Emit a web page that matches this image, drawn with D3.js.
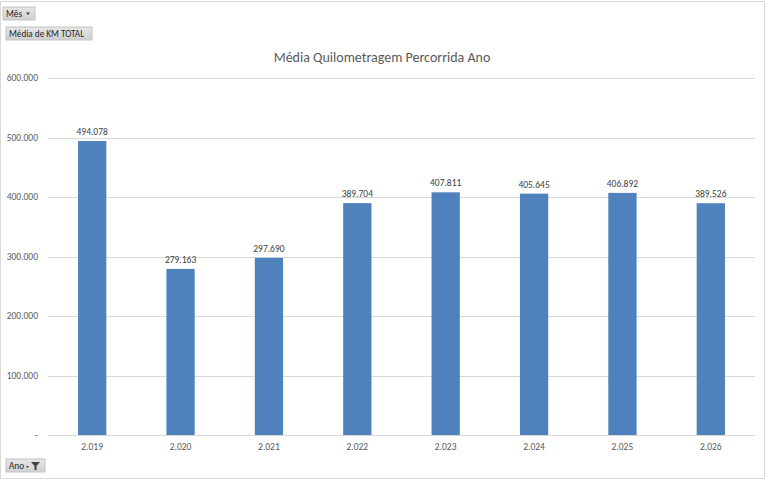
<!DOCTYPE html>
<html><head><meta charset="utf-8">
<script src="https://cdn.jsdelivr.net/npm/d3@7"></script>
<style>body{margin:0;background:#fff;}svg{display:block;font-family:Carlito,Calibri,"Open Sans",sans-serif;}</style>
</head><body><svg id="c" width="768" height="481"></svg>
<script>
const categories = ["2.019","2.020","2.021","2.022","2.023","2.024","2.025","2.026"];
const values = [494078,279163,297690,389704,407811,405645,406892,389526];
const yTicks = [0,100000,200000,300000,400000,500000,600000];
const title = "Média Quilometragem Percorrida Ano";

const svg = d3.select("#c");
const fmtNum = d3.formatLocale({decimal:",",thousands:".",grouping:[3],currency:["",""]}).format(",.0f");
const tickFmt = v => v === 0 ? "-" : fmtNum(v);

// outer border
svg.append("rect").attr("x",0.5).attr("y",1.5).attr("width",764).attr("height",477)
  .attr("fill","none").attr("stroke","#d9d9d9");

const x = d3.scaleBand().domain(categories).range([48,755]).paddingInner(0.68).paddingOuter(0.34);
const y = d3.scaleLinear().domain([0,600000]).range([435,78]);

// gridlines
svg.append("g").selectAll("line").data(yTicks).join("line")
  .attr("x1",48).attr("x2",755).attr("y1",d=>Math.round(y(d))+0.5).attr("y2",d=>Math.round(y(d))+0.5)
  .attr("stroke","#d9d9d9").attr("stroke-width",1);

// y tick labels
svg.append("g").selectAll("text").data(yTicks).join("text")
  .attr("x",38).attr("y",d=>y(d)+3).attr("text-anchor","end")
  .attr("font-size",9.5).attr("fill","#595959").text(tickFmt);

// bars
svg.append("g").selectAll("rect").data(values).join("rect")
  .attr("x",(d,i)=>x(categories[i])).attr("width",x.bandwidth())
  .attr("y",d=>y(d)).attr("height",d=>y(0)-y(d)).attr("fill","#4f81bd");

// value labels
svg.append("g").selectAll("text").data(values).join("text")
  .attr("x",(d,i)=>x(categories[i])+x.bandwidth()/2).attr("y",d=>y(d)-6)
  .attr("text-anchor","middle").attr("font-size",9.5).attr("fill","#404040").text(fmtNum);

// x labels
svg.append("g").selectAll("text").data(categories).join("text")
  .attr("x",d=>x(d)+x.bandwidth()/2).attr("y",450).attr("text-anchor","middle")
  .attr("font-size",9.5).attr("fill","#595959").text(d=>d);

// title
svg.append("text").attr("x",382).attr("y",62).attr("text-anchor","middle")
  .attr("font-size",14).attr("fill","#595959").text(title);

// field buttons
const grad = svg.append("defs").append("linearGradient").attr("id","btn").attr("x1",0).attr("y1",0).attr("x2",0).attr("y2",1);
grad.append("stop").attr("offset","0%").attr("stop-color","#e6e6e6");
grad.append("stop").attr("offset","100%").attr("stop-color","#d0d0d0");
function button(xp, yp, w, h, label){
  const g = svg.append("g");
  g.append("rect").attr("x",xp).attr("y",yp).attr("width",w).attr("height",h)
    .attr("fill","url(#btn)").attr("stroke","#c4c4c4");
  g.append("text").attr("x",xp+3).attr("y",yp+h-3.5).attr("font-size",9.2).attr("fill","#262626").text(label);
  return g;
}
const b1 = button(3,7,32,13,"Mês");
b1.append("path").attr("d","M26,12.5 L30,12.5 L28,15 Z").attr("fill","#404040");
button(6,27,86,13,"Média de KM TOTAL");
const b3 = button(6,459,39,13,"Ano");
b3.append("path").attr("d","M26,466 L29,466 L27.5,468 Z").attr("fill","#404040");
b3.append("path").attr("d","M31,462 L40,462 L36.5,466 L36.5,470 L34.5,470 L34.5,466 Z").attr("fill","#404040");
</script></body></html>
